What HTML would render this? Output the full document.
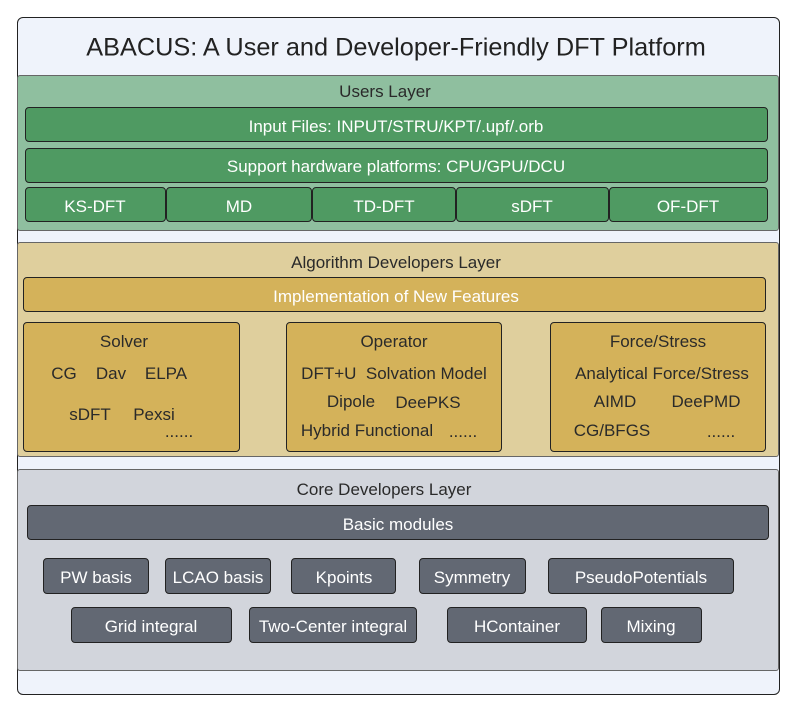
<!DOCTYPE html>
<html><head><style>
body{margin:0;width:797px;height:712px;background:#fff;position:relative;overflow:hidden;font-family:"Liberation Sans",sans-serif;}
div{position:absolute;box-sizing:border-box;}
.b{border:1.5px solid #222;border-radius:4px;}
.t{white-space:nowrap;transform:translate(-50%,-50%);font-size:17px;color:#2a2a2a;margin-top:1px;}
.w{color:#fff;}
.g{background:#4f9a62;}
.y{background:#d4b25a;}
.d{background:#626873;}
</style></head><body>
<div style="left:17px;top:17px;width:763px;height:678px;background:#eff3fb;border:1.5px solid #222;border-radius:6px"></div>
<div class="t" style="left:396px;top:47px;font-size:25.3px;color:#222">ABACUS: A User and Developer-Friendly DFT Platform</div>

<div style="left:17px;top:75px;width:762px;height:156px;background:#8fbf9f;border:1px solid #666;border-radius:3px"></div>
<div class="t" style="left:385px;top:91px">Users Layer</div>
<div class="b g" style="left:25px;top:107px;width:743px;height:35px"></div>
<div class="t w" style="left:396px;top:126px">Input Files: INPUT/STRU/KPT/.upf/.orb</div>
<div class="b g" style="left:25px;top:148px;width:743px;height:35px"></div>
<div class="t w" style="left:396px;top:166px">Support hardware platforms: CPU/GPU/DCU</div>
<div class="b g" style="left:25px;top:187px;width:141px;height:35px"></div>
<div class="b g" style="left:166px;top:187px;width:146px;height:35px"></div>
<div class="b g" style="left:312px;top:187px;width:144px;height:35px"></div>
<div class="b g" style="left:456px;top:187px;width:153px;height:35px"></div>
<div class="b g" style="left:609px;top:187px;width:159px;height:35px"></div>
<div class="t w" style="left:95px;top:206px">KS-DFT</div>
<div class="t w" style="left:239px;top:206px">MD</div>
<div class="t w" style="left:384px;top:206px">TD-DFT</div>
<div class="t w" style="left:532px;top:206px">sDFT</div>
<div class="t w" style="left:688px;top:206px">OF-DFT</div>

<div style="left:17px;top:242px;width:762px;height:215px;background:#dfcf9d;border:1px solid #666;border-radius:3px"></div>
<div class="t" style="left:396px;top:262px">Algorithm Developers Layer</div>
<div class="b y" style="left:23px;top:277px;width:743px;height:35px"></div>
<div class="t w" style="left:396px;top:296px">Implementation of New Features</div>
<div class="b y" style="left:23px;top:322px;width:217px;height:130px"></div>
<div class="b y" style="left:286px;top:322px;width:216px;height:130px"></div>
<div class="b y" style="left:550px;top:322px;width:216px;height:130px"></div>
<div class="t" style="left:124px;top:341px">Solver</div>
<div class="t" style="left:64px;top:373px">CG</div>
<div class="t" style="left:111px;top:373px">Dav</div>
<div class="t" style="left:166px;top:373px">ELPA</div>
<div class="t" style="left:90px;top:414px">sDFT</div>
<div class="t" style="left:154px;top:414px">Pexsi</div>
<div class="t" style="left:179px;top:431px">......</div>
<div class="t" style="left:394px;top:341px">Operator</div>
<div class="t" style="left:394px;top:373px">DFT+U&nbsp; Solvation Model</div>
<div class="t" style="left:351px;top:401px">Dipole</div>
<div class="t" style="left:428px;top:402px">DeePKS</div>
<div class="t" style="left:367px;top:430px">Hybrid Functional</div>
<div class="t" style="left:463px;top:431px">......</div>
<div class="t" style="left:658px;top:341px">Force/Stress</div>
<div class="t" style="left:662px;top:373px">Analytical Force/Stress</div>
<div class="t" style="left:615px;top:401px">AIMD</div>
<div class="t" style="left:706px;top:401px">DeePMD</div>
<div class="t" style="left:612px;top:430px">CG/BFGS</div>
<div class="t" style="left:721px;top:431px">......</div>

<div style="left:17px;top:469px;width:762px;height:202px;background:#d2d5dc;border:1px solid #666;border-radius:3px"></div>
<div class="t" style="left:384px;top:489px">Core Developers Layer</div>
<div class="b d" style="left:27px;top:505px;width:742px;height:35px"></div>
<div class="t w" style="left:398px;top:524px">Basic modules</div>
<div class="b d" style="left:43px;top:558px;width:106px;height:36px"></div>
<div class="b d" style="left:165px;top:558px;width:106px;height:36px"></div>
<div class="b d" style="left:291px;top:558px;width:105px;height:36px"></div>
<div class="b d" style="left:419px;top:558px;width:107px;height:36px"></div>
<div class="b d" style="left:548px;top:558px;width:186px;height:36px"></div>
<div class="t w" style="left:96px;top:577px">PW basis</div>
<div class="t w" style="left:218px;top:577px">LCAO basis</div>
<div class="t w" style="left:344px;top:577px">Kpoints</div>
<div class="t w" style="left:472px;top:577px">Symmetry</div>
<div class="t w" style="left:641px;top:577px">PseudoPotentials</div>
<div class="b d" style="left:71px;top:607px;width:161px;height:36px"></div>
<div class="b d" style="left:249px;top:607px;width:168px;height:36px"></div>
<div class="b d" style="left:447px;top:607px;width:140px;height:36px"></div>
<div class="b d" style="left:601px;top:607px;width:101px;height:36px"></div>
<div class="t w" style="left:151px;top:626px">Grid integral</div>
<div class="t w" style="left:333px;top:626px">Two-Center integral</div>
<div class="t w" style="left:517px;top:626px">HContainer</div>
<div class="t w" style="left:651px;top:626px">Mixing</div>
</body></html>
